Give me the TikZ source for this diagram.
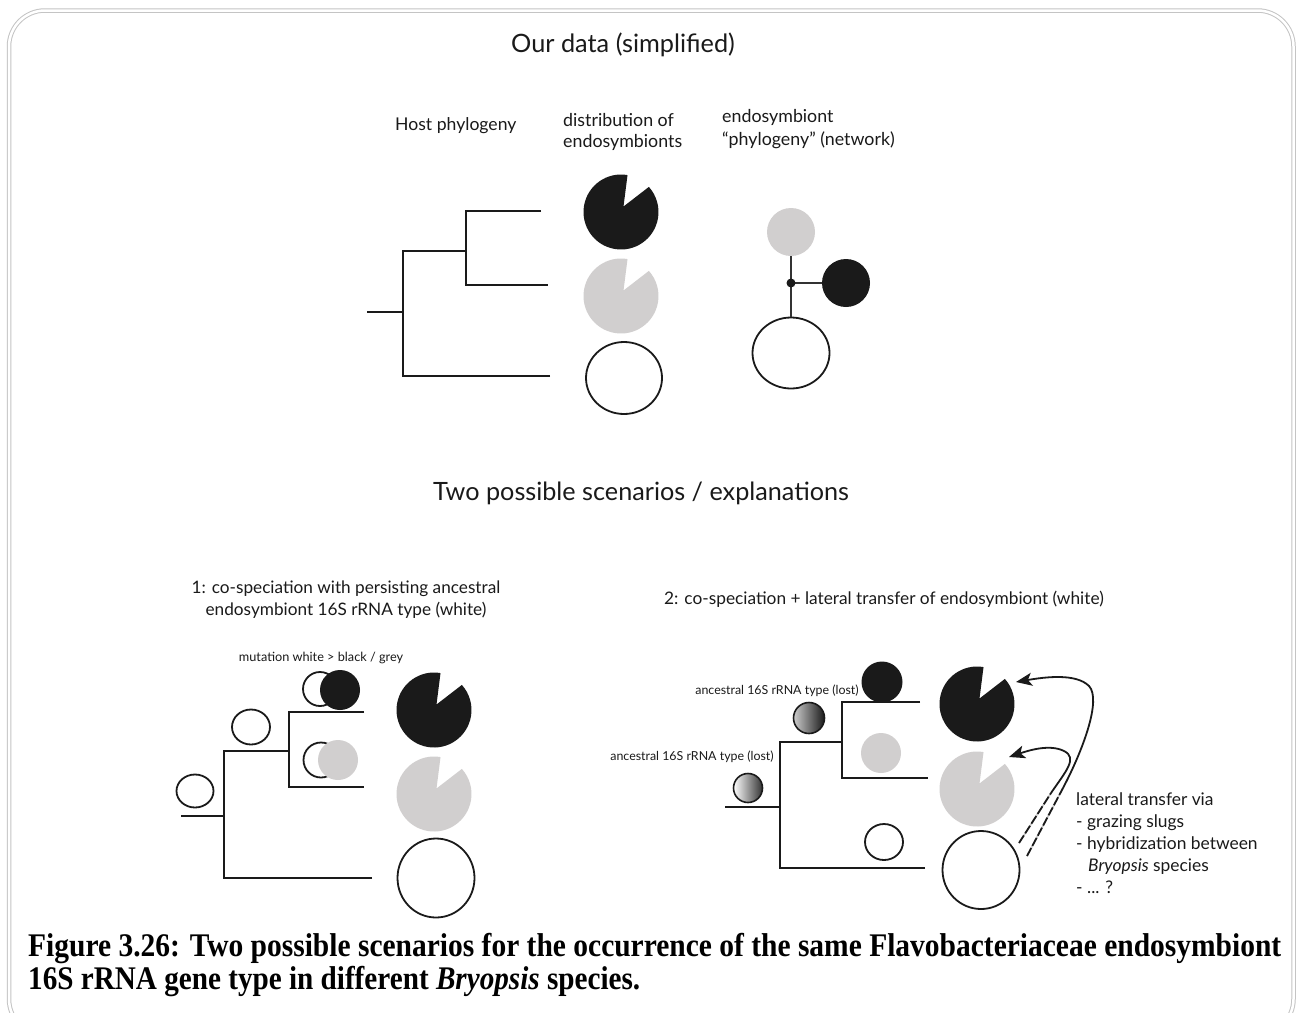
\documentclass[tikz,border=0pt]{standalone}
\usepackage{fontspec}
\setmainfont{Lato}
\newfontfamily\capfont{Liberation Serif}
\usetikzlibrary{arrows.meta,shapes.geometric}
\definecolor{pgrey}{HTML}{D1CFCF}
\definecolor{pblack}{HTML}{1A1A1A}
\definecolor{framegrey}{HTML}{C4C4C4}
\definecolor{netline}{HTML}{333333}
\newcommand{\fsz}[1]{\fontsize{#1}{#1}\selectfont}
\begin{document}
\begin{tikzpicture}[x=1pt,y=-1pt,
  branch/.style={line width=1.8pt, pblack, line join=miter},
  ring/.style={draw=pblack, line width=1.8pt, fill=white},
  lbl/.style={inner sep=0pt, text=pblack},
  pics/pac/.style={code={\fill[#1] (2.5,-5.5) -- (-80:37.5) arc[start angle=-80, end angle=-402, radius=37.5] -- cycle;}},
  transfer/.style={line width=1.8pt, pblack, -{Stealth[length=16pt, width=13pt, inset=4pt]}},
  transferlow/.style={line width=1.8pt, pblack, dash pattern=on 9pt off 2.5pt},
  transferunder/.style={line width=1.6pt, gray!45}]
\useasboundingbox (0,0) rectangle (1297,1012);
\fill[white] (0,0) rectangle (1297,1012);
% frame
\draw[framegrey, line width=1pt, double=white, double distance=2.5pt, rounded corners=36] (9,10.5) rectangle (1293.5,1035);

% ---------- top part ----------
\node[lbl, font=\fsz{25.3}] (title1) at (623,45) {Our data (simplified)};
\node[lbl, font=\fsz{17.6}, anchor=west] (hosth) at (395,126) {Host phylogeny};
\node[lbl, font=\fsz{17.8}, anchor=west, align=left] (disth) at (563,132) {distribution of\\[4pt]endosymbionts};
\node[lbl, font=\fsz{17.8}, anchor=west, align=left] (neth) at (722,129) {endosymbiont\\[5pt]“phylogeny” (network)};

% host tree
\coordinate (t0) at (367,312);
\coordinate (t1) at (403,312);
\coordinate (tvt) at (403,251);
\coordinate (tvb) at (403,376);
\coordinate (tbe) at (550,376);
\coordinate (tjn) at (466,251);
\coordinate (tv2t) at (466,211);
\coordinate (tv2b) at (466,285);
\coordinate (tte) at (541,211);
\coordinate (tme) at (548,285);
\draw[branch] (t0) -- (t1);
\draw[branch] (tbe) -- (tvb) -- (tvt) -- (tjn);
\draw[branch] (tte) -- (tv2t) -- (tv2b) -- (tme);

% distribution
\pic (tpb) at (621,212) {pac=pblack};
\pic (tpg) at (621,296) {pac=pgrey};
\node[ring, ellipse, minimum width=76pt, minimum height=72pt, inner sep=0pt] (tpw) at (624,378) {};

% network
\node[circle, fill=pgrey, minimum size=48pt, inner sep=0pt] (ng) at (791,232) {};
\node[circle, fill=pblack, minimum size=48pt, inner sep=0pt] (nb) at (846,283) {};
\node[ring, ellipse, minimum width=77pt, minimum height=71pt, inner sep=0pt] (nw) at (791,353) {};
\coordinate (nj) at (791,283);
\draw[netline, line width=2.2pt] (ng.south) -- (nw.north);
\draw[netline, line width=2.2pt] (nj) -- (nb.west);
\fill[pblack] (nj) circle[radius=4.5];

% ---------- second title ----------
\node[lbl, font=\fsz{25.2}] (title2) at (641,493) {Two possible scenarios / explanations};

% ---------- scenario 1 ----------
\node[lbl, font=\fsz{17.2}, align=center] (s1h) at (346,600) {1: co-speciation with persisting ancestral\\[4.8pt]endosymbiont 16S rRNA type (white)};
\node[lbl, font=\fsz{12.7}] (s1m) at (321,658) {mutation white > black / grey};

\coordinate (l0) at (181,816);
\coordinate (l1) at (224,816);
\coordinate (lvt) at (224,751);
\coordinate (lvb) at (224,878);
\coordinate (lbe) at (372,878);
\coordinate (ljn) at (289,751);
\coordinate (lv2t) at (289,712);
\coordinate (lv2b) at (289,787);
\coordinate (lte) at (364,712);
\coordinate (lme) at (364,787);
\draw[branch] (l0) -- (l1);
\draw[branch] (lbe) -- (lvb) -- (lvt) -- (ljn);
\draw[branch] (lte) -- (lv2t) -- (lv2b) -- (lme);

\node[ring, ellipse, minimum width=37pt, minimum height=33pt, inner sep=0pt] (lc0) at (195,791) {};
\node[ring, ellipse, minimum width=38pt, minimum height=35pt, inner sep=0pt] (lc1) at (251,727) {};
\node[ring, circle, minimum size=34pt, inner sep=0pt] (lc2w) at (320,689) {};
\node[circle, fill=pblack, minimum size=40pt, inner sep=0pt] (lc2b) at (340,690) {};
\node[ring, circle, minimum size=35pt, inner sep=0pt] (lc3w) at (321,760) {};
\node[circle, fill=pgrey, minimum size=40pt, inner sep=0pt] (lc3g) at (338,760) {};

\pic (lpb) at (434,710) {pac=pblack};
\pic (lpg) at (434,794) {pac=pgrey};
\node[ring, ellipse, minimum width=77pt, minimum height=79pt, inner sep=0pt] (lpw) at (436,878) {};

% ---------- scenario 2 ----------
\node[lbl, font=\fsz{17.3}] (s2h) at (884,599) {2: co-speciation + lateral transfer of endosymbiont (white)};
\node[lbl, font=\fsz{12.4}] (s2a1) at (777,691) {ancestral 16S rRNA type (lost)};
\node[lbl, font=\fsz{12.4}] (s2a2) at (692,757) {ancestral 16S rRNA type (lost)};

\coordinate (r0) at (725,807);
\coordinate (r1) at (780,807);
\coordinate (rvt) at (780,742);
\coordinate (rvb) at (780,868);
\coordinate (rbe) at (925,868);
\coordinate (rjn) at (842,742);
\coordinate (rv2t) at (842,702);
\coordinate (rv2b) at (842,778);
\coordinate (rte) at (920,702);
\coordinate (rme) at (928,778);
\draw[branch] (r0) -- (r1);
\draw[branch] (rbe) -- (rvb) -- (rvt) -- (rjn);
\draw[branch] (rte) -- (rv2t) -- (rv2b) -- (rme);

\node[circle, draw=pblack, line width=1.6pt, left color=gray!40, right color=pblack, minimum size=31pt, inner sep=0pt] (rs1) at (809,718) {};
\node[circle, draw=pblack, line width=1.6pt, left color=white, right color=black!80, minimum size=29pt, inner sep=0pt] (rs2) at (748,788) {};
\node[circle, fill=pblack, minimum size=41pt, inner sep=0pt] (rcb) at (882,682) {};
\node[circle, fill=pgrey, minimum size=40pt, inner sep=0pt] (rcg) at (881,753) {};
\node[ring, ellipse, minimum width=38pt, minimum height=36pt, inner sep=0pt] (rcw) at (884,842) {};

\pic (rpb) at (977,704) {pac=pblack};
\pic (rpg) at (977,789) {pac=pgrey};
\node[ring, ellipse, minimum width=77pt, minimum height=78pt, inner sep=0pt] (rpw) at (981,870) {};

% lateral transfer arrows
\coordinate (a1s) at (1027,856);
\coordinate (a1m) at (1063,788);
\coordinate (a1e) at (1016,682);
\coordinate (a2s) at (1019,843);
\coordinate (a2m) at (1051,793);
\coordinate (a2e) at (1009,757);
\draw[transferunder] (a1s) -- (a1m);
\draw[transferunder] (a2s) -- (a2m);
\draw[transferlow] (a1s) -- (a1m);
\draw[transferlow] (a2s) -- (a2m);
\draw[transfer] (a1m) .. controls (1082,752) and (1102,700) .. (1089,686) .. controls (1076,673) and (1045,677) .. (a1e);
\draw[transfer] (a2m) .. controls (1066,771) and (1078,758) .. (1064,751) .. controls (1050,744) and (1030,750) .. (a2e);

\node[lbl, font=\fsz{17.4}, anchor=west, align=left] (s2t) at (1076,843) {lateral transfer via\\[4.6pt]- grazing slugs\\[4.6pt]- hybridization between\\[4.6pt]\hspace*{12pt}\textit{Bryopsis} species\\[4.6pt]- ... ?};

% ---------- caption ----------
\node[inner sep=0pt, anchor=base west] (cap1) at (28,956) {\resizebox{1253pt}{\height}{\capfont\bfseries\fsz{33}Figure 3.26: Two possible scenarios for the occurrence of the same Flavobacteriaceae endosymbiont}};
\node[inner sep=0pt, anchor=base west] (cap2) at (28,989) {\resizebox{612pt}{\height}{\capfont\bfseries\fsz{33}16S rRNA gene type in different \textit{Bryopsis} species.}};
\end{tikzpicture}
\end{document}
